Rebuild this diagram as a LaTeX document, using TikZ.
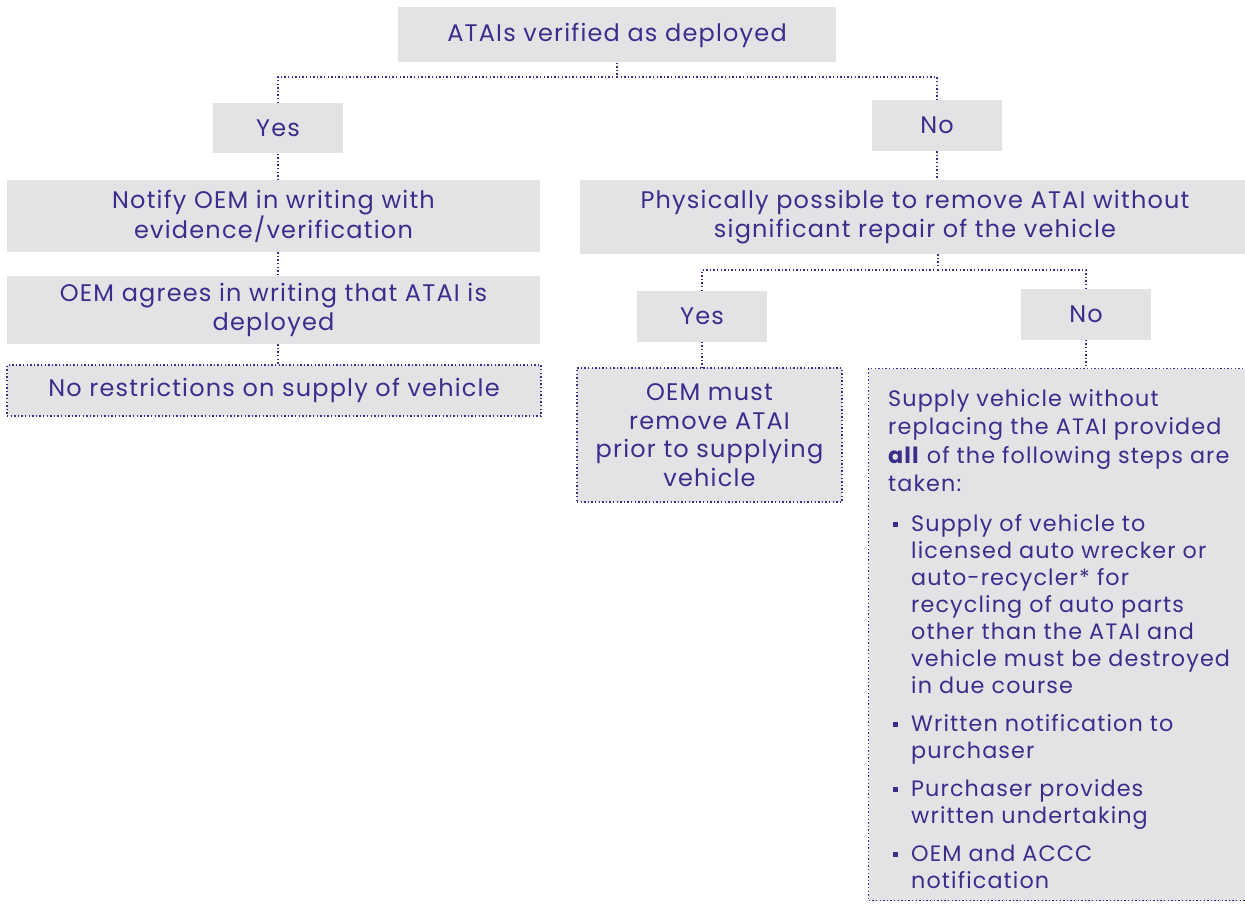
\documentclass[tikz,border=0pt]{standalone}
\usepackage{fontspec}
\setmainfont{Poppins}[LetterSpace=5]
\definecolor{ink}{RGB}{58,46,140}
\definecolor{boxfill}{RGB}{227,227,230}
\tikzset{
  box/.style={fill=boxfill, draw=none, inner sep=0pt, align=center, text=ink, font=\fontsize{24}{28.7}\selectfont},
  dotbox/.style={box, draw=ink, line width=1.4pt, dash pattern=on 1.4pt off 2.2pt},
  conn/.style={draw=ink, line width=1.4pt, dash pattern=on 1.4pt off 2.2pt},
}
\newcommand{\blt}{\makebox[23pt][l]{\hspace{5pt}\raisebox{4.5pt}{\rule{5pt}{5pt}}}}
\newcommand{\ind}{\hspace*{23pt}}
\begin{document}
\begin{tikzpicture}[x=1pt,y=-1pt]
\useasboundingbox (0,0) rectangle (1245,904);
\node[box, minimum width=438, minimum height=55] (top) at (617,35) {ATAIs verified as deployed};
\node[box, minimum width=130, minimum height=50] (yes1) at (278,128.5) {Yes};
\node[box, minimum width=130, minimum height=51] (no1) at (937,125.5) {No};
\node[box, minimum width=533, minimum height=72] (notify) at (273.5,216) {Notify OEM in writing with\\evidence/verification};
\node[box, minimum width=533, minimum height=68] (agree) at (273.5,310) {OEM agrees in writing that ATAI is\\deployed};
\node[dotbox, minimum width=534, minimum height=51] (norestr) at (274,390.5) {No restrictions on supply of vehicle};
\node[box, minimum width=670, minimum height=74] (phys) at (915,217) {Physically possible to remove ATAI without\\significant repair of the vehicle};
\node[box, minimum width=130, minimum height=51] (yes2) at (702,316) {Yes};
\node[box, minimum width=130, minimum height=51] (no2) at (1086,314) {No};
\node[dotbox, minimum width=265, minimum height=134] (remove) at (709.5,435) {OEM must\\remove ATAI\\prior to supplying\\vehicle};
\node[dotbox, minimum width=382, minimum height=532, anchor=north west, align=left, text width=382, inner sep=0pt] (supply) at (868,368) {};
\node[box, fill=none, anchor=north west, align=left, font=\fontsize{22.3}{28.6}\selectfont] (supplytext) at (888,389) {Supply vehicle without\\replacing the ATAI provided\\\textbf{all} of the following steps are\\taken:\\[10.5pt]
\blt Supply of vehicle to\\[-1.6pt]
\ind licensed auto wrecker or\\[-1.6pt]
\ind auto-recycler* for\\[-1.6pt]
\ind recycling of auto parts\\[-1.6pt]
\ind other than the ATAI and\\[-1.6pt]
\ind vehicle must be destroyed\\[-1.6pt]
\ind in due course\\[9.5pt]
\blt Written notification to\\[-1.6pt]
\ind purchaser\\[9.5pt]
\blt Purchaser provides\\[-1.6pt]
\ind written undertaking\\[9.5pt]
\blt OEM and ACCC\\[-1.6pt]
\ind notification};
\coordinate (j1) at (617,77);
\coordinate (j2) at (938,270);
\draw[conn] (top.south) -- (j1);
\draw[conn] (j1) -- (j1 -| yes1.north) -- (yes1.north);
\draw[conn] (j1) -- (j1 -| no1.north) -- (no1.north);
\draw[conn] (yes1.south) -- (yes1.south |- notify.north);
\draw[conn] (notify.south -| yes1.south) -- (agree.north -| yes1.south);
\draw[conn] (agree.south -| yes1.south) -- (norestr.north -| yes1.south);
\draw[conn] (no1.south) -- (no1.south |- phys.north);
\draw[conn] (phys.south -| j2) -- (j2);
\draw[conn] (j2) -- (j2 -| yes2.north) -- (yes2.north);
\draw[conn] (j2) -- (j2 -| no2.north) -- (no2.north);
\draw[conn] (yes2.south) -- (yes2.south |- remove.north);
\draw[conn] (no2.south) -- (no2.south |- supply.north);
\end{tikzpicture}
\end{document}
